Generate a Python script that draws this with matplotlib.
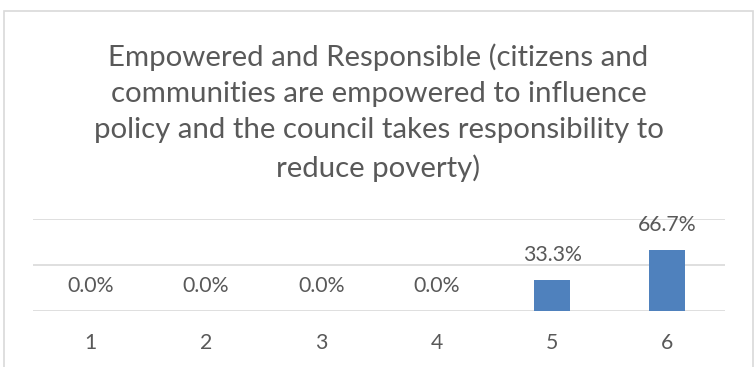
import matplotlib
matplotlib.use("Agg")
from matplotlib import pyplot as plt
from matplotlib.patches import Rectangle

categories = ["1", "2", "3", "4", "5", "6"]
shares = [0.0, 0.0, 0.0, 0.0, 0.333, 0.667]
share_labels = ["0.0%", "0.0%", "0.0%", "0.0%", "33.3%", "66.7%"]
title_lines = [
    "Empowered and Responsible (citizens and",
    "communities are empowered to influence",
    "policy and the council takes responsibility to",
    "reduce poverty)",
]

TEXT = "#595959"
GRID = "#d9d9d9"
BAR = "#4f81bd"

plt.rcParams["font.family"] = ["Lato", "DejaVu Sans"]

fig = plt.figure(figsize=(7.54, 3.67), dpi=100)
# chart frame
fig.patches.append(Rectangle((4 / 754, -0.05), 749 / 754, 1 - 10.5 / 367 + 0.05,
                             transform=fig.transFigure, fill=False,
                             edgecolor=GRID, linewidth=1.2))

# baseline of the last title line
fig.text(0.502, 1 - 177 / 367, "\n".join(title_lines), ha="center", va="baseline",
         fontsize=21.2, color=TEXT, linespacing=1.49, multialignment="center")

ax = fig.add_axes([33 / 754, 1 - 311 / 367, 692 / 754, 92 / 367])
x = list(range(1, len(categories) + 1))
ax.bar(x, shares, width=0.31, color=BAR, zorder=3)
ax.set_xlim(0.5, 6.5)
ax.set_ylim(0, 1.0)
ax.set_yticks([0, 0.5, 1.0])
ax.yaxis.grid(True, color=GRID, linewidth=1.2)
ax.set_axisbelow(True)
for side in ["top", "right", "left", "bottom"]:
    ax.spines[side].set_visible(False)
ax.tick_params(axis="y", left=False, labelleft=False)
ax.set_xticks(x)
ax.set_xticklabels(categories)
ax.tick_params(axis="x", bottom=False, pad=12, labelsize=15.3, labelcolor=TEXT)

for xi, v, lab in zip(x, shares, share_labels):
    ax.annotate(lab, (xi, v), xytext=(0, 18), textcoords="offset points",
                ha="center", va="center", fontsize=15.3, color=TEXT,
                annotation_clip=False)

fig.savefig("out.png", dpi=100)
